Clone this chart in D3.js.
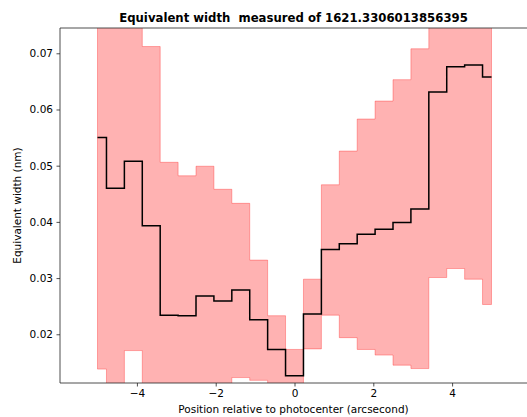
<!DOCTYPE html>
<html>
<head>
<meta charset="utf-8">
<script src="https://cdn.jsdelivr.net/npm/d3@7"></script>
<style>
  body { margin: 0; background: #fff; }
  svg { display: block; font-family: "DejaVu Sans", sans-serif; }
</style>
</head>
<body>
<div id="chart"></div>
<script>
// positions along the slit (arcsec)
var positions = [-5, -4.545, -4.091, -3.636, -3.182, -2.727, -2.273, -1.818, -1.364, -0.909, -0.455,
  0, 0.455, 0.909, 1.364, 1.818, 2.273, 2.727, 3.182, 3.636, 4.091, 4.545, 5];

// measured equivalent width (nm)
var eqWidth = [0.0550, 0.0460, 0.0508, 0.0393, 0.0234, 0.0233, 0.0268, 0.0259, 0.0279, 0.0226, 0.0173,
  0.0126, 0.0236, 0.0351, 0.0361, 0.0378, 0.0387, 0.0399, 0.0423, 0.0631, 0.0676, 0.0679, 0.0658];

// error band
var upperBound = [0.0960, 0.0830, 0.0845, 0.0712, 0.0506, 0.0482, 0.0499, 0.0458, 0.0433, 0.0332, 0.0233,
  0.0173, 0.0298, 0.0466, 0.0526, 0.0583, 0.0615, 0.0653, 0.0708, 0.0960, 0.1035, 0.1060, 0.1060];
var lowerBound = [0.0138, 0.0090, 0.0171, 0.0074, 0.0038, 0.0000, 0.0037, 0.0060, 0.0123, 0.0118, 0.0110,
  0.0079, 0.0174, 0.0234, 0.0194, 0.0173, 0.0163, 0.0145, 0.0139, 0.0301, 0.0317, 0.0298, 0.0253];

var xTicks = [-4, -2, 0, 2, 4];
var yTicks = [0.02, 0.03, 0.04, 0.05, 0.06, 0.07];

var w = 527, h = 417;
var padL = 60, padR = 527, padT = 28, padB = 383;

var data = positions.map(function (p, i) {
  return { x: p, y: eqWidth[i], hi: upperBound[i], lo: lowerBound[i] };
});

var x = d3.scaleLinear().domain([-5.952, 5.901]).range([padL, padR]);
var y = d3.scaleLinear().domain([0.01133, 0.0745]).range([padB, padT]);

var svg = d3.select("#chart").append("svg")
  .attr("width", w)
  .attr("height", h);

svg.append("clipPath").attr("id", "plot")
  .append("rect")
  .attr("x", padL).attr("y", padT)
  .attr("width", padR - padL).attr("height", padB - padT);

// step with the jump halfway between samples
var band = d3.area()
  .curve(d3.curveStep)
  .x(function (d) { return x(d.x); })
  .y0(function (d) { return y(d.lo); })
  .y1(function (d) { return y(d.hi); });

var line = d3.line()
  .curve(d3.curveStep)
  .x(function (d) { return x(d.x); })
  .y(function (d) { return y(d.y); });

var g = svg.append("g").attr("clip-path", "url(#plot)");

g.append("path")
  .datum(data)
  .attr("d", band)
  .attr("fill", "red")
  .attr("fill-opacity", 0.3)
  .attr("stroke", "red")
  .attr("stroke-opacity", 0.3)
  .attr("stroke-width", 1);

g.append("path")
  .datum(data)
  .attr("d", line)
  .attr("fill", "none")
  .attr("stroke", "#000")
  .attr("stroke-width", 1.5);

// axes
var xAxis = d3.axisBottom(x).tickValues(xTicks).tickSize(3.5).tickPadding(3.5)
  .tickFormat(d3.format("d"));
var yAxis = d3.axisLeft(y).tickValues(yTicks).tickSize(3.5).tickPadding(3.5)
  .tickFormat(d3.format(".2f"));

var gx = svg.append("g")
  .attr("transform", "translate(0," + padB + ")")
  .call(xAxis);
var gy = svg.append("g")
  .attr("transform", "translate(" + padL + ",0)")
  .call(yAxis);

[gx, gy].forEach(function (a) {
  a.select(".domain").remove();
  a.selectAll(".tick line").attr("stroke", "#222").attr("stroke-width", 0.8);
  a.selectAll(".tick text").attr("fill", "#000").style("font-size", "10.5px")
    .style("font-family", "DejaVu Sans, sans-serif");
});

// spines
svg.append("line").attr("x1", padL).attr("x2", padR).attr("y1", padT).attr("y2", padT)
  .attr("stroke", "#222").attr("stroke-width", 0.8);
svg.append("line").attr("x1", padL).attr("x2", padR).attr("y1", padB).attr("y2", padB)
  .attr("stroke", "#222").attr("stroke-width", 0.8);
svg.append("line").attr("x1", padL).attr("x2", padL).attr("y1", padT).attr("y2", padB)
  .attr("stroke", "#222").attr("stroke-width", 0.8);

// labels
svg.append("text")
  .attr("x", (padL + padR) / 2)
  .attr("y", 22)
  .attr("text-anchor", "middle")
  .attr("xml:space", "preserve")
  .style("font-size", "11.7px")
  .style("font-weight", "bold")
  .text("Equivalent width  measured of 1621.3306013856395");

svg.append("text")
  .attr("x", (padL + padR) / 2)
  .attr("y", 413)
  .attr("text-anchor", "middle")
  .style("font-size", "10.5px")
  .text("Position relative to photocenter (arcsecond)");

svg.append("text")
  .attr("transform", "translate(21," + (padT + padB) / 2 + ") rotate(-90)")
  .attr("text-anchor", "middle")
  .style("font-size", "10.5px")
  .text("Equivalent width (nm)");
</script>
</body>
</html>
